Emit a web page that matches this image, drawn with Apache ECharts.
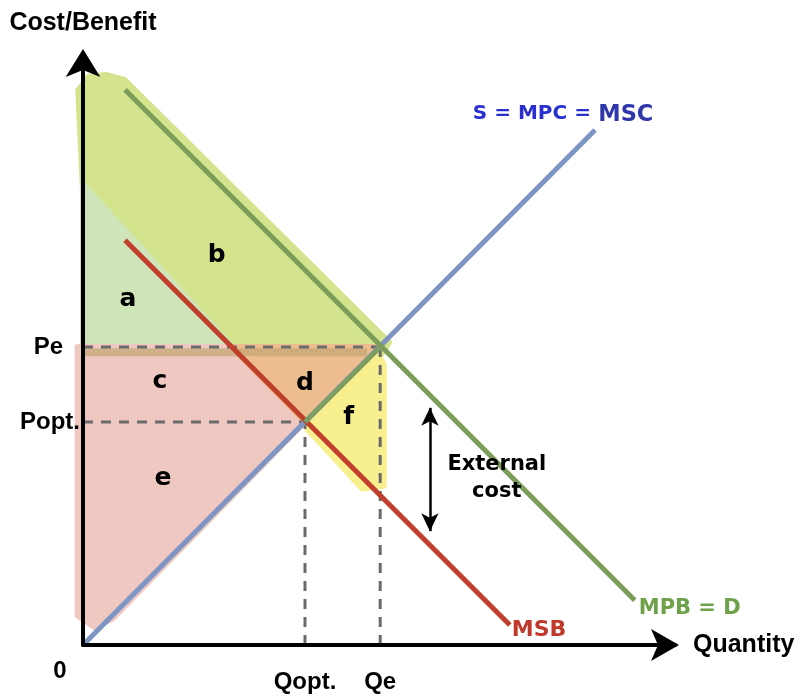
<!DOCTYPE html>
<html><head><meta charset="utf-8">
<script src="https://cdn.jsdelivr.net/npm/echarts@6/dist/echarts.min.js"></script>
<style>html,body{margin:0;padding:0;background:#fff}#c{width:804px;height:700px}</style>
</head><body><div id="c"></div>
<script>
// Key values (data units: 0..100 on both axes)
const Pe = 50.5, Popt = 37.8, Qopt = 37.5, Qe = 50.2;
const msbAtPe = 25.2, msbAtQe = 25.5;

// Curves
const mscLine = [[0, 0], [86.5, 87.3]];
const mpbLine = [[7.1, 94.1], [93.2, 7.6]];
const msbLine = [[7.1, 68.6], [72.1, 3.4]];
const mscPainted = [[Qopt, Popt], [Qe, Pe]];

// Shaded areas
const areaB = [[-0.8, 94], [1, 96.3], [4, 96.6], [7, 95.8], [Qe + 1.5, Pe + 0.8], [Qe, Pe - 1.5], [msbAtPe, Pe], [0, 77]];
const areaA = [[0, 78], [0, Pe], [msbAtPe, Pe]];
const areaCE = [[-0.9, 5], [-0.9, Pe], [msbAtPe, Pe], [Qopt, Popt], [5, 4.5], [2, 3]];
const areaD = [[msbAtPe, Pe], [Qe - 1, Pe], [Qopt, Popt]];
const areaF = [[Qopt, Popt], [Qe - 0.5, Pe - 1], [Qe + 0.6, Pe - 3], [Qe + 0.6, 27], [Qe - 3, 26.5], [44, 30], [Qopt + 0.5, 36.5]];

// Dashed guide lines
const peGuide = [[0, Pe], [Qe, Pe]];
const poptGuide = [[0, Popt], [Qopt, Popt]];
const qoptGuide = [[Qopt, 0], [Qopt, Popt]];
const qeGuide = [[Qe, 0], [Qe, Pe]];
const peBand = [[0, Pe - 0.9], [48, Pe - 0.9]];

// Texts
const tickLabels = [
  { name: 'Pe', value: [0, Pe], pos: 'left', dist: 20 },
  { name: 'Popt.', value: [0, Popt], pos: 'left', dist: 3 },
  { name: 'Qopt.', value: [Qopt, 0], pos: 'bottom', dist: 25 },
  { name: 'Qe', value: [Qe, 0], pos: 'bottom', dist: 25 },
  { name: '0', value: [0, 0], pos: 'bottom', dist: 14, off: [-23, 0] }
];
const areaLetters = [
  ['a', 7.6, 58.5], ['b', 22.6, 66.1], ['c', 13.0, 44.7],
  ['d', 37.5, 44.4], ['e', 13.5, 28.3], ['f', 44.9, 38.5]
];
const arrowExt = [[58.6, 40.2], [58.6, 19.3]];
const extLabelPos = [69.9, 28.3];
const mscLabelPos = [81.1, 89.8];

const geo = '"DejaVu Sans", Inter, sans-serif';
const arial = '"Liberation Sans", Arial, sans-serif';

function poly(pts, color) {
  return {
    type: 'custom', coordinateSystem: 'cartesian2d', silent: true, z: 1,
    data: [[0, 0]],
    renderItem: (params, api) => ({
      type: 'polygon',
      shape: { points: pts.map(p => api.coord(p)) },
      style: { fill: color, stroke: color, lineWidth: 6, lineJoin: 'round' }
    })
  };
}
function line(pts, color, width, type, z) {
  return {
    type: 'line', data: pts, symbol: 'none', silent: true, z: z || 5,
    lineStyle: { color: color, width: width, type: type || 'solid', cap: 'butt' }
  };
}
function textSeries(data) {
  return { type: 'scatter', symbolSize: 0, silent: true, z: 10,
    itemStyle: { opacity: 1 }, data: data };
}

const series = [
  poly(areaB, '#d4e48c'),
  poly(areaA, '#cfe4b9'),
  poly(areaCE, '#efc8c1'),
  poly(areaD, '#eebd8f'),
  poly(areaF, '#f8f08e'),
  line(peBand, 'rgba(195,165,115,0.7)', 8, 'solid', 2),
  line(peGuide, '#6a6a6a', 3, [10, 8], 3),
  line(poptGuide, '#6a6a6a', 3, [10, 8], 3),
  line(qoptGuide, '#6a6a6a', 3, [10, 8], 3),
  line(qeGuide, '#6a6a6a', 3, [10, 8], 3),
  line(mscLine, '#7e95c3', 5),
  line(mscPainted, '#7d9d62', 5, 'solid', 6),
  line(mpbLine, '#7c9d59', 5),
  line(msbLine, '#bf3f2b', 5),
  textSeries(tickLabels.map(t => ({
    value: t.value,
    label: {
      show: true, formatter: t.name, position: t.pos, distance: t.dist,
      offset: t.off || [0, 0], opacity: 1,
      fontFamily: arial, fontWeight: 'bold', fontSize: 24, color: '#000'
    }
  }))),
  textSeries(areaLetters.map(a => ({
    value: [a[1], a[2]],
    label: { show: true, formatter: a[0], position: 'inside', opacity: 1,
      fontFamily: geo, fontWeight: 'bold', fontSize: 25, color: '#000' }
  }))),
  textSeries([
    { value: mscLabelPos, label: { show: true, position: 'inside', opacity: 1,
        formatter: '{a|S = MPC =} {b|MSC}',
        rich: { a: { fontFamily: geo, fontWeight: 'bold', fontSize: 20, color: '#2a30d0', padding: [0, 0, 3, 0] },
                b: { fontFamily: geo, fontWeight: 'bold', fontSize: 22.5, color: '#2f37ab', padding: [0, 0, 0, 4] } } } },
    { value: msbLine[1], label: { show: true, position: 'right', distance: 2, offset: [0, 5], formatter: 'MSB', opacity: 1,
        fontFamily: geo, fontWeight: 'bold', fontSize: 22, color: '#c0392b' } },
    { value: mpbLine[1], label: { show: true, position: 'right', distance: 4, offset: [0, 8], formatter: 'MPB = D', opacity: 1,
        fontFamily: geo, fontWeight: 'bold', fontSize: 21, color: '#6fa04a' } },
    { value: extLabelPos, label: { show: true, position: 'inside', formatter: 'External\ncost', lineHeight: 27, opacity: 1,
        fontFamily: geo, fontWeight: 'bold', fontSize: 21, color: '#000', align: 'center' } }
  ]),
  {
    type: 'line', data: [], silent: true,
    markLine: {
      silent: true, symbol: ['arrow', 'arrow'], symbolSize: [13, 18], z: 10,
      label: { show: false },
      lineStyle: { color: '#000', width: 2.5, type: 'solid' },
      data: [[{ coord: arrowExt[0] }, { coord: arrowExt[1] }]]
    }
  }
];

const chart = echarts.init(document.getElementById('c'));
chart.setOption({
  animation: false,
  backgroundColor: '#fff',
  grid: { left: 83, right: 129, top: 55, bottom: 55, containLabel: false },
  xAxis: {
    type: 'value', min: 0, max: 100, z: 20,
    name: 'Quantity', nameLocation: 'end', nameGap: 18,
    nameTextStyle: { fontFamily: arial, fontWeight: 'bold', fontSize: 25, color: '#000' },
    axisLine: { show: true, onZero: false, symbol: ['none', 'arrow'], symbolSize: [24, 28], symbolOffset: [0, 4],
      lineStyle: { color: '#000', width: 4 } },
    axisTick: { show: false }, axisLabel: { show: false }, splitLine: { show: false }
  },
  yAxis: {
    type: 'value', min: 0, max: 100, z: 20,
    name: 'Cost/Benefit', nameLocation: 'end', nameGap: 19,
    nameTextStyle: { fontFamily: arial, fontWeight: 'bold', fontSize: 25, color: '#000', align: 'center' },
    axisLine: { show: true, onZero: false, symbol: ['none', 'arrow'], symbolSize: [26, 28], symbolOffset: [0, 6],
      lineStyle: { color: '#000', width: 4 } },
    axisTick: { show: false }, axisLabel: { show: false }, splitLine: { show: false }
  },
  series: series
});
</script>
</body></html>
